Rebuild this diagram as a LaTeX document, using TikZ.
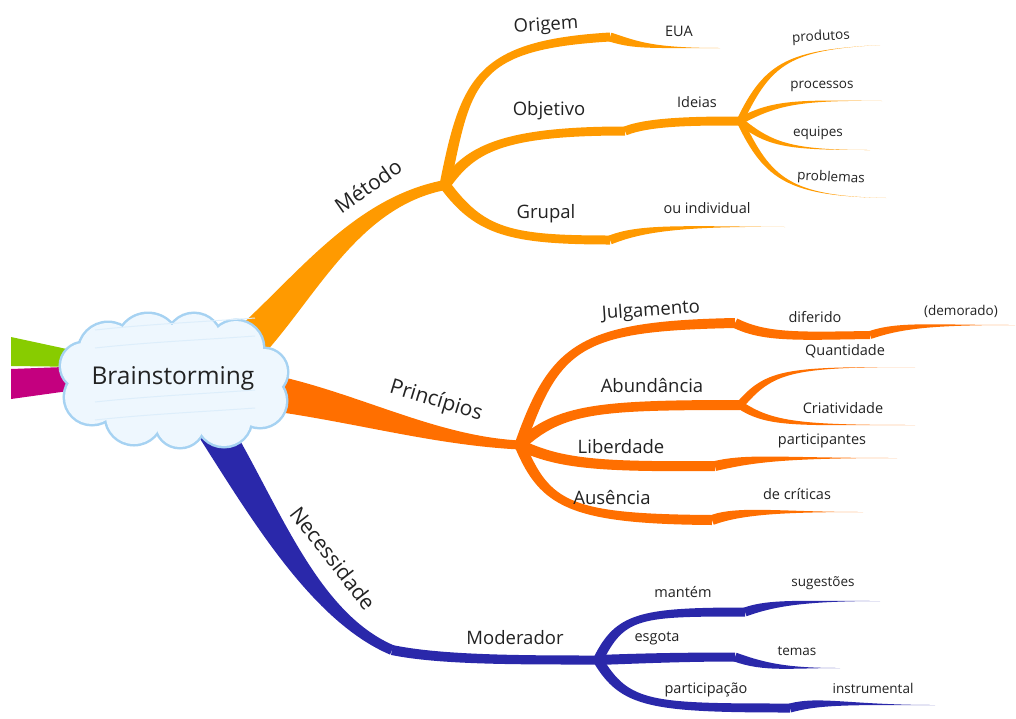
\documentclass[tikz,border=0pt]{standalone}
\usepackage{fontspec}
\setmainfont{Open Sans}
\usetikzlibrary{calc}
\definecolor{orA}{HTML}{FF9A00}
\definecolor{orB}{HTML}{FF6F00}
\definecolor{blN}{HTML}{2A28AA}
\definecolor{grS}{HTML}{88CC00}
\definecolor{mgS}{HTML}{C4007F}
\definecolor{cloudedge}{HTML}{A6D2F2}
\definecolor{cloudfill}{HTML}{EEF7FE}
\definecolor{cloudhatch}{HTML}{DDEEFB}
\definecolor{txt}{HTML}{222222}
% tapered branch: colour, start, c1, c2, end, half width at start, half width at end
\newcommand\br[7]{%
 \fill[#1] ($#2!#6!90:#3$) .. controls ($#3!#6!-90:#2$) and ($#4!#7!90:#5$) .. ($#5!#7!-90:#4$)
   -- ($#5!#7!90:#4$) .. controls ($#4!#7!-90:#5$) and ($#3!#6!90:#2$) .. ($#2!#6!-90:#3$) -- cycle;}
\tikzset{
 big/.style={text=txt,font=\fontsize{21}{22}\selectfont,inner sep=0pt},
 mid/.style={text=txt,font=\fontsize{18.5}{19}\selectfont,inner sep=0pt},
 sml/.style={text=txt,font=\fontsize{14.5}{15}\selectfont,inner sep=0pt},
 tny/.style={text=txt,font=\fontsize{13.5}{14}\selectfont,inner sep=0pt},
}
\begin{document}
\begin{tikzpicture}[x=1pt,y=-1pt]
\useasboundingbox (0,0) rectangle (1016,718);
% junction coordinates
\coordinate (C0) at (173,378);
\coordinate (JM) at (445,185);
\coordinate (JP) at (520,445);
\coordinate (JN) at (598,660);
\coordinate (NK) at (392,650);
\coordinate (O1) at (610,37);
\coordinate (Ob1) at (625,131);
\coordinate (I1) at (740,121);
\coordinate (G1) at (610,240);
\coordinate (Ju1) at (735,323);
\coordinate (Ju2) at (870,335);
\coordinate (A1) at (740,405);
\coordinate (L1) at (715,466);
\coordinate (Au1) at (712,520);
\coordinate (Ma1) at (745,612);
\coordinate (E1) at (735,657);
\coordinate (P1) at (790,708);
% tips
\coordinate (tEUA) at (720,48);
\coordinate (tPro) at (880,45);
\coordinate (tPrc) at (882,101);
\coordinate (tEqu) at (870,150);
\coordinate (tPrb) at (886,198);
\coordinate (tInd) at (785,227);
\coordinate (tDem) at (1015,325);
\coordinate (tQua) at (915,367);
\coordinate (tCri) at (915,425);
\coordinate (tPar) at (897,458);
\coordinate (tCrt) at (863,512);
\coordinate (tSug) at (880,601);
\coordinate (tTem) at (840,668);
\coordinate (tIns) at (935,705);

% stubs on the left
\fill[grS] (11,337) -- (90,354) -- (90,367) -- (11,366) -- cycle;
\fill[mgS] (11,369) -- (90,366) -- (90,388) -- (11,399) -- cycle;

% main branches
\br{orA}{(215,372)}{(290,320)}{(340,205)}{(JM)}{20pt}{5pt}
\br{orB}{(220,386)}{(330,395)}{(420,440)}{(JP)}{19pt}{4.5pt}
\br{blN}{(205,415)}{(260,500)}{(310,615)}{(NK)}{17pt}{5pt}
\br{blN}{(NK)}{(440,660)}{(520,660)}{(JN)}{5pt}{4.5pt}

% Metodo sub-branches
\br{orA}{(JM)}{(466,80)}{(475,45)}{(O1)}{5.5pt}{4.5pt}
\br{orA}{(O1)}{(635,45)}{(650,48)}{(tEUA)}{4.5pt}{0pt}
\br{orA}{(JM)}{(470,150)}{(500,131)}{(Ob1)}{5.5pt}{4.5pt}
\br{orA}{(Ob1)}{(650,121)}{(700,121)}{(I1)}{4.5pt}{4.5pt}
\br{orA}{(I1)}{(768,62)}{(790,50)}{(tPro)}{3.5pt}{0pt}
\br{orA}{(I1)}{(775,102)}{(800,100)}{(tPrc)}{3.5pt}{0pt}
\br{orA}{(I1)}{(770,145)}{(790,150)}{(tEqu)}{3.5pt}{0pt}
\br{orA}{(I1)}{(768,180)}{(790,196)}{(tPrb)}{3.5pt}{0pt}
\br{orA}{(JM)}{(480,232)}{(510,240)}{(G1)}{5.5pt}{4.5pt}
\br{orA}{(G1)}{(640,228)}{(680,226)}{(tInd)}{4.5pt}{0pt}

% Principios sub-branches
\br{orB}{(JP)}{(555,345)}{(580,326)}{(Ju1)}{5.5pt}{5pt}
\br{orB}{(Ju1)}{(765,338)}{(800,336)}{(Ju2)}{5pt}{4pt}
\br{orB}{(Ju2)}{(900,325)}{(930,325)}{(tDem)}{4pt}{0pt}
\br{orB}{(JP)}{(560,408)}{(600,405)}{(A1)}{5.5pt}{5pt}
\br{orB}{(A1)}{(770,370)}{(790,367)}{(tQua)}{4pt}{0pt}
\br{orB}{(A1)}{(770,425)}{(800,425)}{(tCri)}{4pt}{0pt}
\br{orB}{(JP)}{(560,464)}{(600,467)}{(L1)}{5.5pt}{5pt}
\br{orB}{(L1)}{(750,458)}{(780,458)}{(tPar)}{5pt}{0pt}
\br{orB}{(JP)}{(545,505)}{(570,519)}{(Au1)}{5.5pt}{5pt}
\br{orB}{(Au1)}{(740,510)}{(780,512)}{(tCrt)}{5pt}{0pt}

% Moderador sub-branches
\br{blN}{(JN)}{(620,615)}{(640,612)}{(Ma1)}{5pt}{4.5pt}
\br{blN}{(Ma1)}{(770,603)}{(800,601)}{(tSug)}{4.5pt}{0pt}
\br{blN}{(JN)}{(650,658)}{(690,657)}{(E1)}{5pt}{4.5pt}
\br{blN}{(E1)}{(765,668)}{(790,668)}{(tTem)}{4.5pt}{0pt}
\br{blN}{(JN)}{(625,705)}{(650,708)}{(P1)}{5pt}{4.5pt}
\br{blN}{(P1)}{(820,700)}{(850,705)}{(tIns)}{4.5pt}{0pt}

% cloud
\foreach \cx/\cy/\r in {108/352/29,148/345/31,194/341/27,236/348/27,264/372/23,260/401/26,224/419/27,180/423/24,134/416/28,92/397/27,84/366/23}{
 \draw[cloudedge,line width=5pt] (\cx,\cy) circle (\r);}
\foreach \cx/\cy/\r in {108/352/29,148/345/31,194/341/27,236/348/27,264/372/23,260/401/26,224/419/27,180/423/24,134/416/28,92/397/27,84/366/23}{
 \fill[cloudfill] (\cx,\cy) circle (\r);}
\fill[cloudfill] (C0) ellipse (95 and 48);
\foreach \ya/\yb in {330/318,348/336,402/390,420/408}{
 \draw[cloudhatch,line width=1pt] (95,\ya) .. controls (150,\ya-6) and (200,\yb+4) .. (255,\yb);}
\node[text=txt,font=\fontsize{24.5}{25}\selectfont,inner sep=0pt] (brain) at (C0) {Brainstorming};

% labels
\node[big,rotate=35] (lMet) at (368,186) {Método};
\node[big,rotate=-17] (lPri) at (436,401) {Princípios};
\node[big,rotate=-52] (lNec) at (333,558) {Necessidade};
\node[mid,rotate=4] (lOri) at (546,26) {Origem};
\node[sml] (lEUA) at (679,31) {EUA};
\node[mid] (lObj) at (549,111) {Objetivo};
\node[sml] (lIde) at (697,102) {Ideias};
\node[tny,rotate=3] (lPro) at (821,37) {produtos};
\node[tny] (lPrc) at (822,86) {processos};
\node[tny] (lEqu) at (818,133) {equipes};
\node[tny,rotate=-3] (lPrb) at (831,178) {problemas};
\node[mid] (lGru) at (546,214) {Grupal};
\node[sml] (lInd) at (707,208) {ou individual};
\node[mid,rotate=4] (lJul) at (651,311) {Julgamento};
\node[sml] (lDif) at (815,317) {diferido};
\node[tny] (lDem) at (961,311) {(demorado)};
\node[sml] (lQua) at (845,351) {Quantidade};
\node[mid] (lAbu) at (652,385) {Abundância};
\node[sml] (lCri) at (843,408) {Criatividade};
\node[mid] (lLib) at (621,447) {Liberdade};
\node[sml] (lPar) at (822,441) {participantes};
\node[mid] (lAus) at (612,497) {Ausência};
\node[sml] (lCrt) at (797,494) {de críticas};
\node[mid] (lMod) at (515,638) {Moderador};
\node[sml] (lMan) at (683,592) {mantém};
\node[tny] (lSug) at (823,583) {sugestões};
\node[sml] (lEsg) at (657,638) {esgota};
\node[tny] (lTem) at (797,651) {temas};
\node[sml] (lPai) at (706,690) {participação};
\node[tny] (lIns) at (873,688) {instrumental};
\end{tikzpicture}
\end{document}
